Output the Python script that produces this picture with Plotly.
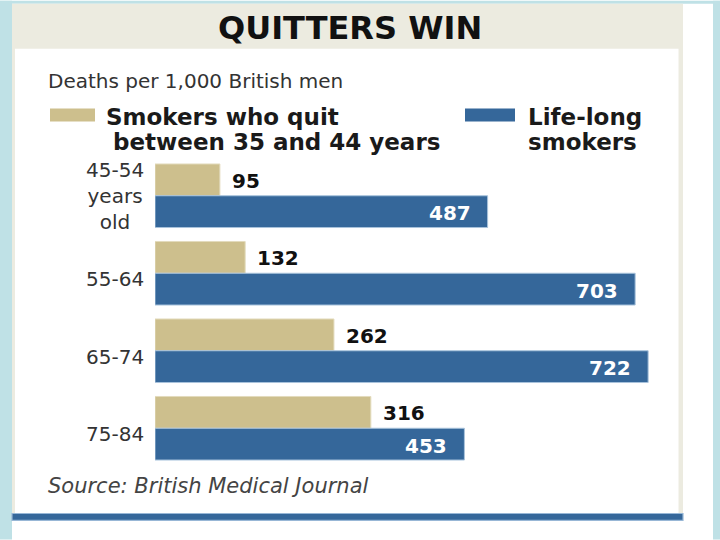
import plotly.graph_objects as go

# ---------------- data ----------------
age_groups = ["45-54\nyears\nold", "55-64", "65-74", "75-84"]
quit_35_44 = [95, 132, 262, 316]
lifelong = [487, 703, 722, 453]
series_names = ["Smokers who quit\nbetween 35 and 44 years", "Life-long\nsmokers"]
title_text = "QUITTERS WIN"
subtitle_text = "Deaths per 1,000 British men"
source_text = "Source: British Medical Journal"

# ---------------- styling / layout constants ----------------
W, H = 720, 540
L, RM, T, B = 155.0, 36.0, 156.6, 72.6
PW = W - L - RM
PH = H - T - B
PX_PER_UNIT = 0.683
x_max = PW / PX_PER_UNIT

TAN = "#cdbf8d"
BLUE = "#35679a"
LIGHT_BLUE = "#bfe1e6"
BEIGE = "#ecebe0"
FONT = "DejaVu Sans"


def px(x):
    return (x - L) / PW


def py(y):
    return 1 - (y - T) / PH


fig = go.Figure()
fig.add_trace(go.Bar(
    y=age_groups, x=quit_35_44, orientation="h", name=series_names[0].replace("\n", " "),
    marker=dict(color=TAN, line=dict(color="#e3dbbd", width=1)), hoverinfo="skip",
))
fig.add_trace(go.Bar(
    y=age_groups, x=lifelong, orientation="h", name=series_names[1].replace("\n", " "),
    marker=dict(color=BLUE, line=dict(color="#a9c3dc", width=1)), hoverinfo="skip",
))

shapes = []


def rect(x0, y0, x1, y1, fill, line_color=None, lw=0, layer="below"):
    shapes.append(dict(
        type="rect", xref="paper", yref="paper",
        x0=px(x0), x1=px(x1), y0=py(y0), y1=py(y1),
        fillcolor=fill, line=dict(width=lw, color=line_color or fill), layer=layer,
    ))


# frame
rect(0, 0, 12, 540, LIGHT_BLUE)
rect(713, 0, 720, 540, LIGHT_BLUE)
rect(0, 0, 720, 3, LIGHT_BLUE)
rect(12, 3, 683, 514, BEIGE)
rect(15, 48, 678.5, 514, "white")
rect(12, 514, 683, 521, BLUE, "#98b7d6", 1.2)
# legend swatches
rect(50, 108, 95, 121, TAN)
rect(465, 108, 515, 121, BLUE)

annotations = []


def text(x, y, s, size, color="#222", xanchor="left", bold=False, italic=False):
    annotations.append(dict(
        x=px(x), y=py(y), xref="paper", yref="paper", text=s, showarrow=False,
        xanchor=xanchor, yanchor="middle",
        font=dict(family=FONT, size=size, color=color,
                  weight="bold" if bold else "normal",
                  style="italic" if italic else "normal"),
    ))


text(350, 27.5, title_text, 32, "#111", "center", bold=True)
text(46, 80.5, subtitle_text, 20, "#333")

# legend texts
leg1 = series_names[0].split("\n")
leg2 = series_names[1].split("\n")
text(104, 116, leg1[0], 23, "#1a1a1a", bold=True)
text(111, 142, leg1[1], 23, "#1a1a1a", bold=True)
text(526, 116, leg2[0], 23, "#1a1a1a", bold=True)
text(526, 142, leg2[1], 23, "#1a1a1a", bold=True)

# category labels
group_pitch = PH / len(age_groups)
for i, g in enumerate(age_groups):
    lines = g.split("\n")
    center = T + (i + 0.5) * group_pitch
    offset = 6 if len(lines) == 1 else 0.5
    text(146, center + offset, "<br>".join(lines), 20, "#333", "right")

# value labels
for g, v in zip(age_groups, quit_35_44):
    annotations.append(dict(
        x=v, y=g, xref="x", yref="y", text=str(v), showarrow=False,
        xanchor="left", yanchor="middle", xshift=10, yshift=15,
        font=dict(family=FONT, size=20, color="#111", weight="bold"),
    ))
for g, v in zip(age_groups, lifelong):
    annotations.append(dict(
        x=v, y=g, xref="x", yref="y", text=str(v), showarrow=False,
        xanchor="right", yanchor="middle", xshift=-15, yshift=-17.5,
        font=dict(family=FONT, size=20, color="white", weight="bold"),
    ))

text(46, 486, source_text, 21, "#444", italic=True)

fig.update_layout(
    width=W, height=H,
    margin=dict(l=L, r=RM, t=T, b=B, pad=0),
    paper_bgcolor="white", plot_bgcolor="rgba(0,0,0,0)",
    barmode="group", bargap=14 / 77.7, bargroupgap=0,
    showlegend=False,
    xaxis=dict(range=[0, x_max], visible=False, fixedrange=True),
    yaxis=dict(type="category", categoryorder="array", categoryarray=age_groups,
               range=[len(age_groups) - 0.5, -0.5], visible=False, fixedrange=True),
    shapes=shapes, annotations=annotations,
)

fig.write_html(
    "out.html",
    config={"displayModeBar": False},
    post_script="document.body.style.margin='0';document.body.style.padding='0';",
)
